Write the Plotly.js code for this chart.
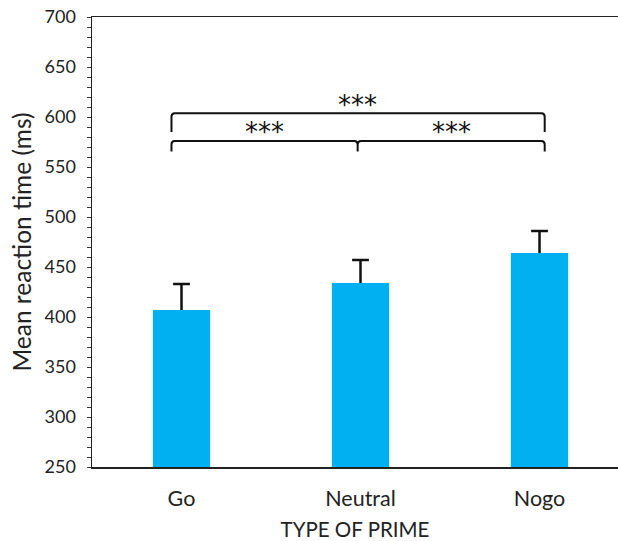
<!DOCTYPE html>
<html>
<head>
<meta charset="utf-8">
<script src="https://cdn.plot.ly/plotly-3.0.1.min.js"></script>
<style>html,body{margin:0;padding:0;background:#fff;}#chart{width:618px;height:541px;}</style>
</head>
<body>
<div id="chart"></div>
<script>
var categories = ["Go", "Neutral", "Nogo"];
var meanRT = [407, 434, 464];
var errPlus = [26, 23, 22];
var yTickVals = [250, 300, 350, 400, 450, 500, 550, 600, 650, 700];
var sigLabels = ["***", "***", "***"];

var FONT = "Lato, 'Open Sans', sans-serif";
var idx = categories.map(function (c, i) { return i; });

var barTrace = {
  type: "bar",
  x: idx,
  y: meanRT,
  width: 0.32,
  marker: { color: "#00B0F0", line: { width: 0 } },
  error_y: { type: "data", array: errPlus, arrayminus: meanRT.map(function(){return 0;}), symmetric: false, color: "#111", thickness: 2.5, width: 0 },
  hoverinfo: "none"
};

// error-bar caps at the top of each whisker (plus direction only)
var capTrace = {
  type: "scatter",
  mode: "markers",
  x: idx,
  y: meanRT.map(function (v, i) { return v + errPlus[i]; }),
  marker: { symbol: "line-ew-open", size: 12, color: "#111", line: { color: "#111", width: 2.5 } },
  hoverinfo: "none"
};

// bracket geometry (data coordinates)
var xl = -0.056, xm = 0.984, xr = 2.029;
var r = 0.018;
var topY = 603.7, topEnd = 585;
var lowY = 576, lowEnd = 565.5;

var shapes = [
  { type: "path", xref: "x", yref: "y",
    path: "M " + xl + "," + topEnd + " L " + xl + "," + (topY - 3.5) + " Q " + xl + "," + topY + " " + (xl + r) + "," + topY +
          " L " + (xr - r) + "," + topY + " Q " + xr + "," + topY + " " + xr + "," + (topY - 3.5) + " L " + xr + "," + topEnd,
    line: { color: "#111", width: 2 } },
  { type: "path", xref: "x", yref: "y",
    path: "M " + xl + "," + lowEnd + " L " + xl + "," + (lowY - 3.5) + " Q " + xl + "," + lowY + " " + (xl + r) + "," + lowY +
          " L " + (xm - r) + "," + lowY + " Q " + xm + "," + lowY + " " + xm + "," + (lowY - 3.5) + " L " + xm + "," + lowEnd +
          " M " + xm + "," + (lowY - 3.5) + " Q " + xm + "," + lowY + " " + (xm + r) + "," + lowY +
          " L " + (xr - r) + "," + lowY + " Q " + xr + "," + lowY + " " + xr + "," + (lowY - 3.5) + " L " + xr + "," + lowEnd,
    line: { color: "#111", width: 2 } }
];

var annotations = [
  { x: xm, y: 615, text: sigLabels[0] },
  { x: (xl + xm) / 2, y: 587.7, text: sigLabels[1] },
  { x: (xm + xr) / 2, y: 587.7, text: sigLabels[2] }
].map(function (a) {
  return { x: a.x, y: a.y, xref: "x", yref: "y", text: a.text, showarrow: false,
           xanchor: "center", yanchor: "middle", yshift: -3,
           font: { family: "'DejaVu Sans', sans-serif", size: 26, color: "#111" } };
});

var layout = {
  width: 618, height: 541,
  margin: { l: 92, r: 0, t: 17, b: 74, pad: 0 },
  paper_bgcolor: "#fff", plot_bgcolor: "#fff",
  showlegend: false,
  font: { family: FONT, color: "#222" },
  xaxis: {
    type: "linear",
    range: [-0.5, 2.4385],
    tickvals: idx, ticktext: categories,
    ticks: "", showgrid: false, zeroline: false,
    showline: true, linecolor: "#222", linewidth: 1.5, mirror: true,
    tickfont: { family: FONT, size: 21.5, color: "#222" },
    ticklabelstandoff: 12,
    title: { text: "TYPE OF PRIME", font: { family: FONT, size: 20.5, color: "#222" }, standoff: 13 }
  },
  yaxis: {
    range: [250, 700],
    tickvals: yTickVals,
    ticks: "outside", ticklen: 4, tickwidth: 1, tickcolor: "#333",
    minor: { dtick: 10, tick0: 250, ticks: "outside", ticklen: 4, tickwidth: 1, tickcolor: "#333", showgrid: false },
    showgrid: false, zeroline: false,
    showline: true, linecolor: "#222", linewidth: 1.5,
    tickfont: { family: FONT, size: 18, color: "#222" },
    ticklabelstandoff: 7,
    title: { text: "Mean reaction time (ms)", font: { family: FONT, size: 24.5, color: "#222" }, standoff: 6 }
  },
  shapes: shapes,
  annotations: annotations
};

Plotly.newPlot("chart", [barTrace, capTrace], layout, { staticPlot: true, displayModeBar: false });
</script>
</body>
</html>
